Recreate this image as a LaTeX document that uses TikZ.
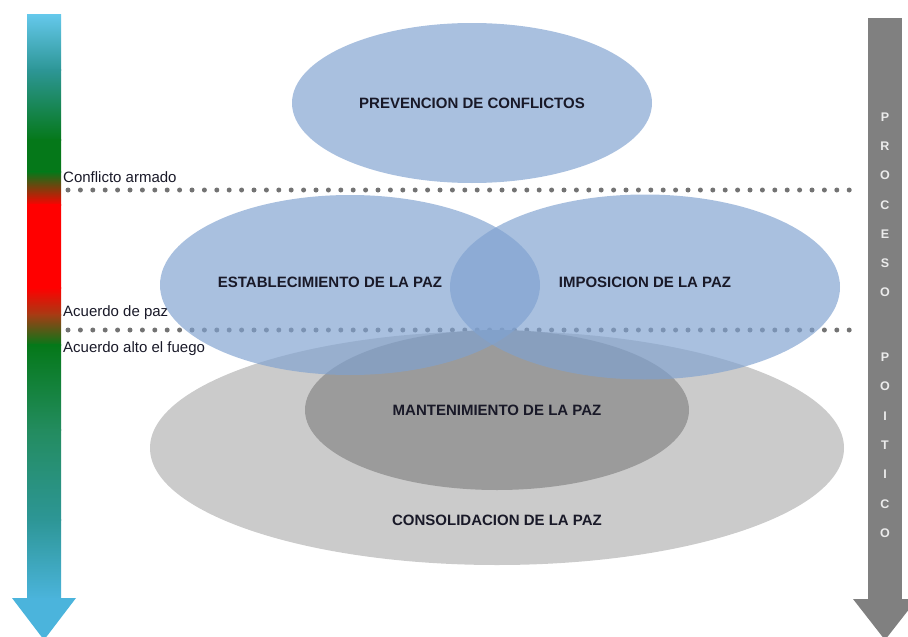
\documentclass[tikz,border=0pt]{standalone}
\usepackage{fontspec}
\setmainfont{Liberation Sans}
\usetikzlibrary{shapes.geometric}

\definecolor{skyblue}{RGB}{100,200,235}
\definecolor{tealmid}{RGB}{45,150,150}
\definecolor{armgreen}{RGB}{5,120,25}
\definecolor{armred}{RGB}{255,0,0}
\definecolor{armbrown}{RGB}{165,60,20}
\definecolor{tealgreen}{RGB}{35,140,95}
\definecolor{arrowblue}{RGB}{75,180,220}
\definecolor{peaceblue}{RGB}{128,162,208}
\definecolor{lightgrey}{RGB}{203,203,203}
\definecolor{midgrey}{RGB}{155,155,155}
\definecolor{procgrey}{RGB}{128,128,128}
\definecolor{dotgrey}{RGB}{115,115,115}
\definecolor{labeltext}{RGB}{25,25,40}

\tikzset{
    phase/.style={ellipse, inner sep=0pt, fill=peaceblue, fill opacity=0.68, text opacity=1,
        text=labeltext, font=\fontsize{15}{17}\selectfont\bfseries},
    greyphase/.style={ellipse, inner sep=0pt, text=labeltext, font=\fontsize{15}{17}\selectfont\bfseries},
    phaselabel/.style={text=labeltext, font=\fontsize{15}{17}\selectfont\bfseries},
    sidelabel/.style={anchor=west, inner sep=0pt, text=labeltext, font=\fontsize{15}{17}\selectfont},
    dotline/.style={dotgrey, line width=5pt, line cap=round, dash pattern=on 0pt off 12.4pt},
    procletter/.style={text=white!92!black, font=\fontsize{12.5}{13}\selectfont\bfseries, inner sep=0pt}
}

\begin{document}
\begin{tikzpicture}[x=1pt, y=-1pt]
    \useasboundingbox (0,0) rectangle (908,637);
    \clip (0,0) rectangle (908,637);

    % left arrow, shaded in bands
    \foreach \ya/\ca/\yb/\cb in {15/skyblue/70/tealmid, 70/tealmid/140/armgreen,
        140/armgreen/172/armgreen, 172/armgreen/205/armred, 205/armred/288/armred,
        288/armred/315/armbrown, 315/armbrown/345/armgreen, 345/armgreen/430/tealgreen,
        430/tealgreen/520/tealmid, 520/tealmid/599/arrowblue}
        \shade[top color=\ca, bottom color=\cb] (27,\ya-0.4) rectangle (61,\yb+0.4);
    \fill[arrowblue] (12,598) -- (76,598) -- (44,640) -- cycle;

    % right arrow
    \fill[procgrey] (868,18) rectangle (902,600);
    \fill[procgrey] (853,599) -- (917,599) -- (885,640) -- cycle;
    \foreach \l/\y [count=\i] in {P/117,R/146,O/175,C/205,E/234,S/263,O/292,
        P/357,O/386,I/416,T/445,I/474,C/504,O/533}
        \node[procletter] (proc\i) at (885,\y) {\l};

    % phase limits
    \coordinate (lim1a) at (68,190);
    \coordinate (lim1b) at (850,190);
    \coordinate (lim2a) at (68,330);
    \coordinate (lim2b) at (850,330);
    \draw[dotline] (lim1a) -- (lim1b);
    \draw[dotline] (lim2a) -- (lim2b);

    \node[sidelabel] (armed) at (63,177) {Conflicto armado};
    \node[sidelabel] (peace) at (63,313) {Acuerdo de paz};
    \node[sidelabel] (ceasefire) at (63,349) {Acuerdo alto el fuego};

    % grey phases
    \node[greyphase, fill=lightgrey, minimum width=694pt, minimum height=234pt] (consol) at (497,448) {};
    \node[greyphase, fill=midgrey, minimum width=384pt, minimum height=160pt] (mant) at (497,410) {MANTENIMIENTO DE LA PAZ};
    \node[phaselabel] (consoltext) at (497,520) {CONSOLIDACION DE LA PAZ};

    % blue phases
    \node[phase, minimum width=360pt, minimum height=160pt] (prev) at (472,103) {PREVENCION DE CONFLICTOS};
    \node[phase, minimum width=380pt, minimum height=180pt] (estab) at (350,285) {};
    \node[phase, minimum width=390pt, minimum height=185pt] (impos) at (645,287) {};
    \node[phaselabel] (estabtext) at (330,282) {ESTABLECIMIENTO DE LA PAZ};
    \node[phaselabel] (impostext) at (645,282) {IMPOSICION DE LA PAZ};
\end{tikzpicture}
\end{document}
